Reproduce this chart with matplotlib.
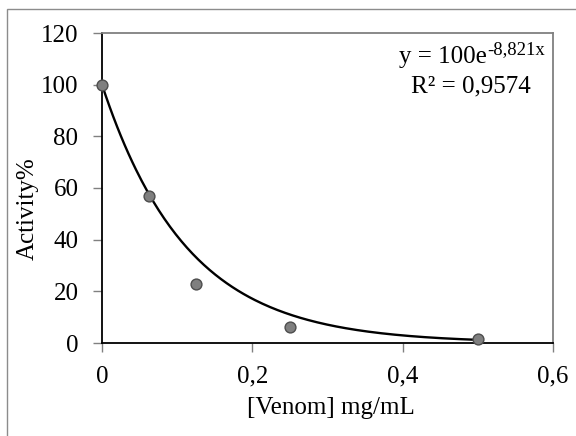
import numpy as np
import matplotlib
matplotlib.use("Agg")
import matplotlib.pyplot as plt

# data
venom = [0.0, 0.0625, 0.125, 0.25, 0.5]
activity = [100, 57, 23, 6.3, 1.5]
fit_a = 100
fit_b = -8.821
xticks = [0, 0.2, 0.4, 0.6]
xtick_labels = ["0", "0,2", "0,4", "0,6"]
yticks = [0, 20, 40, 60, 80, 100, 120]

W, H = 576, 436
plt.rcParams["font.family"] = "Liberation Serif"

fig = plt.figure(figsize=(W / 100, H / 100), dpi=100)
ax = fig.add_axes([102 / W, 1 - 343 / H, 451 / W, 310 / H])

# outer chart border (Excel style), only top/left edges show
fig.patches.append(plt.Rectangle((7 / W, -0.05), 1.0, 1 - 9 / H + 0.05,
                                 transform=fig.transFigure, fill=False,
                                 edgecolor="#8c8c8c", linewidth=1.0))

xs = np.linspace(0, 0.5, 200)
ax.plot(xs, fit_a * np.exp(fit_b * xs), color="black", lw=1.7, zorder=2)
ax.plot(venom, activity, "o", ms=7.8, mfc="#7f7f7f", mec="#4d4d4d", mew=1.0,
        zorder=3, clip_on=False)

ax.set_xlim(0, 0.6)
ax.set_ylim(0, 120)
ax.set_xticks(xticks)
ax.set_xticklabels(xtick_labels)
ax.set_yticks(yticks)
ax.tick_params(labelsize=18, color="#808080", length=6.5, width=1)
ax.tick_params(axis="y", pad=10.5)
ax.tick_params(axis="x", pad=10)

for side in ["top", "right"]:
    ax.spines[side].set_color("#808080")
    ax.spines[side].set_linewidth(1.3)
for side in ["left", "bottom"]:
    ax.spines[side].set_color("black")
    ax.spines[side].set_linewidth(1.3)

ax.set_xlabel("[Venom] mg/mL", fontsize=18, va="center")
ax.xaxis.set_label_coords(0.508, -0.21)
ax.set_ylabel("Activity%", fontsize=18, va="center")
ax.yaxis.set_label_coords(-0.164, 0.432)

# trendline equation, Excel style
fig.text(487 / W, 1 - 63 / H, "y = 100e", ha="right", va="baseline", fontsize=18)
fig.text(487 / W, 1 - 54 / H, "-8,821x", ha="left", va="baseline", fontsize=13.5)
fig.text(470.5 / W, 1 - 92 / H, "R² = 0,9574", ha="center", va="baseline", fontsize=18)

fig.savefig("out.png", dpi=100)
